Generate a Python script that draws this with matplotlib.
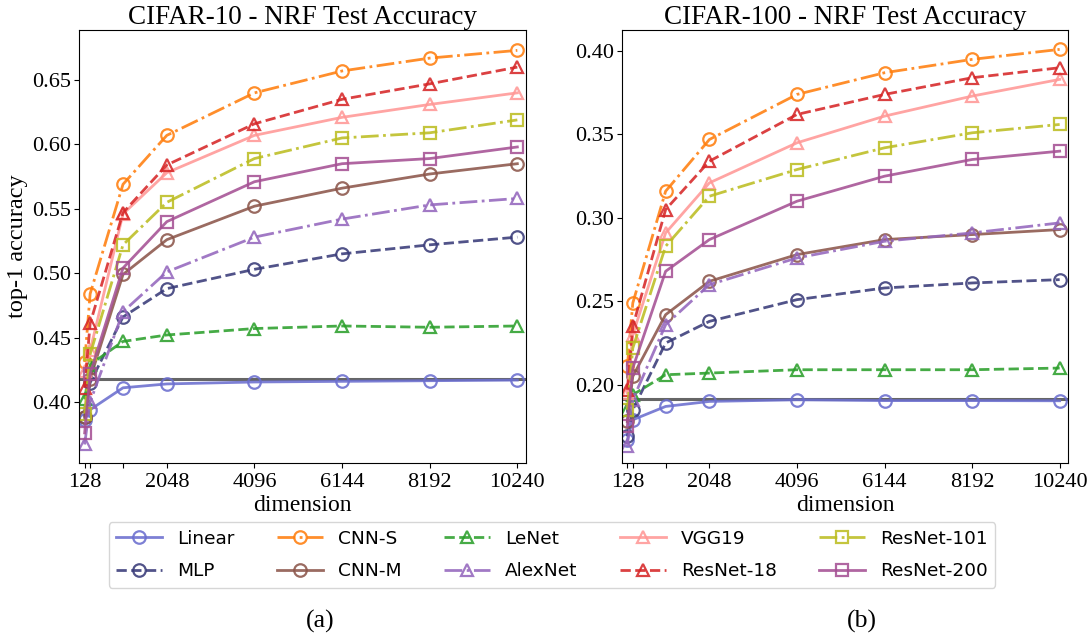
import matplotlib
matplotlib.use("Agg")
import matplotlib.pyplot as plt

dims = [128, 256, 1024, 2048, 4096, 6144, 8192, 10240]
tick_labels = ["128", "", "", "2048", "4096", "6144", "8192", "10240"]

models = ["Linear", "MLP", "CNN-S", "CNN-M", "LeNet", "AlexNet",
          "VGG19", "ResNet-18", "ResNet-101", "ResNet-200"]

# CIFAR-10 accuracies
c10_linear = [0.386, 0.394, 0.411, 0.414, 0.4155, 0.416, 0.4165, 0.417]
c10_mlp = [0.388, 0.415, 0.466, 0.488, 0.503, 0.515, 0.522, 0.528]
c10_cnns = [0.431, 0.484, 0.569, 0.607, 0.640, 0.657, 0.667, 0.673]
c10_cnnm = [0.388, 0.418, 0.499, 0.526, 0.552, 0.566, 0.577, 0.585]
c10_lenet = [0.402, 0.429, 0.447, 0.452, 0.457, 0.459, 0.458, 0.459]
c10_alexnet = [0.367, 0.400, 0.470, 0.501, 0.528, 0.542, 0.553, 0.558]
c10_vgg19 = [0.424, 0.440, 0.546, 0.578, 0.607, 0.621, 0.631, 0.640]
c10_resnet18 = [0.411, 0.461, 0.547, 0.584, 0.616, 0.635, 0.647, 0.660]
c10_resnet101 = [0.391, 0.437, 0.522, 0.555, 0.589, 0.605, 0.609, 0.619]
c10_resnet200 = [0.376, 0.422, 0.504, 0.540, 0.571, 0.585, 0.589, 0.598]
c10_baseline = 0.418

# CIFAR-100 accuracies
c100_linear = [0.167, 0.179, 0.187, 0.190, 0.191, 0.1905, 0.1905, 0.1904]
c100_mlp = [0.169, 0.185, 0.225, 0.238, 0.251, 0.258, 0.261, 0.263]
c100_cnns = [0.211, 0.249, 0.316, 0.347, 0.374, 0.387, 0.395, 0.401]
c100_cnnm = [0.178, 0.205, 0.242, 0.262, 0.278, 0.287, 0.290, 0.293]
c100_lenet = [0.185, 0.194, 0.206, 0.207, 0.209, 0.209, 0.209, 0.210]
c100_alexnet = [0.163, 0.191, 0.236, 0.260, 0.276, 0.286, 0.291, 0.297]
c100_vgg19 = [0.195, 0.230, 0.291, 0.321, 0.345, 0.361, 0.373, 0.383]
c100_resnet18 = [0.197, 0.235, 0.305, 0.334, 0.362, 0.374, 0.384, 0.390]
c100_resnet101 = [0.185, 0.222, 0.283, 0.313, 0.329, 0.342, 0.351, 0.356]
c100_resnet200 = [0.175, 0.210, 0.268, 0.287, 0.310, 0.325, 0.335, 0.340]
c100_baseline = 0.1915

c10 = [c10_linear, c10_mlp, c10_cnns, c10_cnnm, c10_lenet, c10_alexnet,
       c10_vgg19, c10_resnet18, c10_resnet101, c10_resnet200]
c100 = [c100_linear, c100_mlp, c100_cnns, c100_cnnm, c100_lenet, c100_alexnet,
        c100_vgg19, c100_resnet18, c100_resnet101, c100_resnet200]

colors = ["#6b6ecf", "#393b79", "#ff7f0e", "#8c564b", "#2ca02c", "#9467bd",
          "#ff9896", "#d62728", "#bcbd22", "#a55194"]
styles = ["-", "--", "-.", "-", "--", "-.", "-", "--", "-.", "-"]
markers = ["o", "o", "o", "o", "^", "^", "^", "^", "s", "s"]

serif = "Liberation Serif"
tick_fs = 16

fig = plt.figure(figsize=(10.91, 6.36), dpi=100)
ax1 = fig.add_axes([0.0727, 0.272, 0.4094, 0.6808])
ax2 = fig.add_axes([0.5701, 0.272, 0.4091, 0.6808])

handles = []
for ax, data, base, title in [(ax1, c10, c10_baseline, "CIFAR-10 - NRF Test Accuracy"),
                              (ax2, c100, c100_baseline, "CIFAR-100 - NRF Test Accuracy")]:
    ax.axhline(base, color="#666666", lw=2.2, zorder=1)
    hs = []
    for name, vals, c, ls, m in zip(models, data, colors, styles, markers):
        h, = ax.plot(dims, vals, linestyle=ls, marker=m, color=c, lw=2.0,
                     markersize=9, markerfacecolor="none", markeredgewidth=1.6,
                     alpha=0.88, label=name, zorder=2)
        hs.append(h)
    handles = hs
    ax.set_xlim(3, 10442)
    ax.set_xticks(dims)
    ax.set_xticklabels(tick_labels, fontfamily=serif, fontsize=tick_fs)
    ax.tick_params(axis="x", pad=3.5)
    ax.tick_params(axis="y", pad=2.5)
    ax.set_xlabel("dimension", fontfamily=serif, fontsize=17, labelpad=2)
    ax.set_title(title, fontfamily=serif, fontsize=19.5, pad=4)

ax1.set_ylim(0.3526, 0.6888)
ax1.set_yticks([0.40, 0.45, 0.50, 0.55, 0.60, 0.65])
ax1.set_yticklabels(["0.40", "0.45", "0.50", "0.55", "0.60", "0.65"], fontfamily=serif, fontsize=tick_fs)
ax2.set_ylim(0.1531, 0.4126)
ax2.set_yticks([0.20, 0.25, 0.30, 0.35, 0.40])
ax2.set_yticklabels(["0.20", "0.25", "0.30", "0.35", "0.40"], fontfamily=serif, fontsize=tick_fs)
ax1.set_ylabel("top-1 accuracy", fontfamily=serif, fontsize=17.5, labelpad=3)

fig.legend(handles=handles, labels=models, ncol=5, loc="upper center",
           bbox_to_anchor=(0.506, 0.193), fontsize=13.3, handlelength=2.5,
           columnspacing=2.3, labelspacing=0.78, frameon=True)

fig.text(0.2933, 0.004, "(a)", fontfamily=serif, fontsize=18.5, ha="center", va="bottom")
fig.text(0.790, 0.004, "(b)", fontfamily=serif, fontsize=18.5, ha="center", va="bottom")

fig.savefig("out.png", dpi=100)
